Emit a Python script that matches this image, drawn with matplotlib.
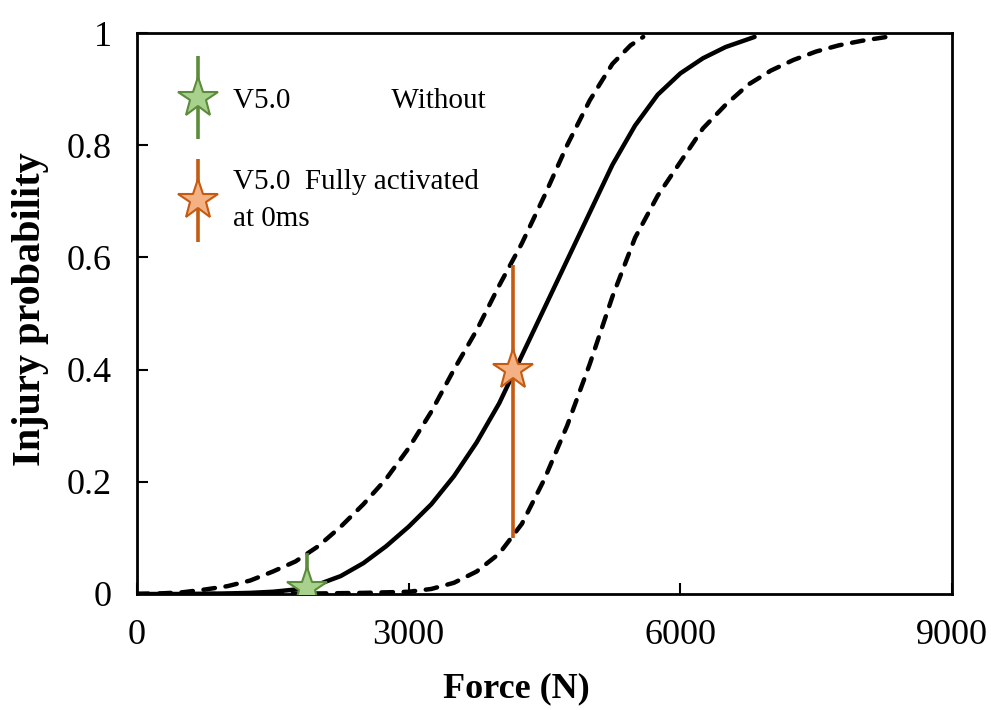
import matplotlib
matplotlib.use("Agg")
import matplotlib.pyplot as plt
from matplotlib.container import ErrorbarContainer
from matplotlib.legend_handler import HandlerErrorbar

plt.rcParams['font.family'] = ['Liberation Serif', 'DejaVu Serif']

# ---- data ----
mean_x = [0, 500, 1000, 1250, 1500, 1750, 2000, 2250, 2500, 2750, 3000, 3250, 3500,
          3750, 4000, 4250, 4500, 4750, 5000, 5250, 5500, 5750, 6000, 6250,
          6500, 6820]
mean_y = [0.0, 0.0, 0.001, 0.002, 0.004, 0.008, 0.017, 0.032, 0.055, 0.085, 0.12, 0.16,
          0.21, 0.27, 0.34, 0.425, 0.51, 0.595, 0.68, 0.765, 0.835, 0.89, 0.928,
          0.955, 0.975, 0.993]

upper_x = [0, 250, 500, 750, 1000, 1250, 1500, 1750, 2000, 2250, 2500, 2750, 3000,
           3250, 3500, 3750, 4000, 4250, 4500, 4750, 5000, 5250, 5450, 5590]
upper_y = [0.0, 0.001, 0.003, 0.008, 0.014, 0.024, 0.04, 0.058, 0.085, 0.12, 0.16,
           0.205, 0.26, 0.325, 0.40, 0.47, 0.55, 0.625, 0.71, 0.80, 0.88, 0.945, 0.978,
           0.993]

lower_x = [0, 1500, 2500, 3000, 3250, 3500, 3750, 4000, 4250, 4500, 4750, 5000, 5250,
           5500, 5750, 6000, 6250, 6500, 6750, 7000, 7250, 7500, 7750, 8000, 8280]
lower_y = [0.0, 0.0, 0.002, 0.004, 0.009, 0.02, 0.04, 0.072, 0.125, 0.205, 0.30, 0.41,
           0.53, 0.635, 0.71, 0.77, 0.83, 0.872, 0.908, 0.933, 0.952, 0.967, 0.978,
           0.986, 0.993]

pt_labels = ["V5.0              Without", "V5.0  Fully activated\nat 0ms"]
pt_x = [1880, 4150]
pt_y = [0.01, 0.40]
pt_err_low = [0.01, 0.30]
pt_err_high = [0.063, 0.186]
pt_line_colors = ["#5b8c3a", "#c55a11"]
pt_face_colors = ["#a9d18e", "#f4b183"]

x_ticks = [0, 3000, 6000, 9000]
x_tick_labels = ["0", "3000", "6000", "9000"]
y_ticks = [0, 0.2, 0.4, 0.6, 0.8, 1.0]
y_tick_labels = ["0", "0.2", "0.4", "0.6", "0.8", "1"]

# ---- figure ----
fig = plt.figure(figsize=(9.91, 7.10), dpi=100)
ax = fig.add_axes([137/991, 1 - 594/710, (952-137)/991, (594-33)/710])

dash = (0, (2.6, 2.4))
ax.plot(mean_x, mean_y, color="black", lw=3.2, solid_capstyle='round',
        solid_joinstyle='round', zorder=2)
ax.plot(upper_x, upper_y, color="black", lw=3.2, linestyle=dash,
        dash_capstyle='round', dash_joinstyle='round', zorder=2)
ax.plot(lower_x, lower_y, color="black", lw=3.2, linestyle=dash,
        dash_capstyle='round', dash_joinstyle='round', zorder=2)

for i in range(len(pt_x)):
    ax.errorbar([pt_x[i]], [pt_y[i]], yerr=[[pt_err_low[i]], [pt_err_high[i]]],
                fmt='*', ms=30, mfc=pt_face_colors[i], mec=pt_line_colors[i], mew=1.5,
                ecolor=pt_line_colors[i], elinewidth=2.6, capsize=0, zorder=4,
                label=pt_labels[i])

ax.set_xlim(0, 9000)
ax.set_ylim(0, 1)
ax.set_xticks(x_ticks)
ax.set_xticklabels(x_tick_labels)
ax.set_yticks(y_ticks)
ax.set_yticklabels(y_tick_labels)
ax.tick_params(direction='in', length=8, width=1.5, labelsize=26, pad=18)
ax.tick_params(axis='x', pad=18)
for s in ax.spines.values():
    s.set_linewidth(2)

ax.set_xlabel("Force (N)", fontsize=26, fontweight='bold')
ax.xaxis.set_label_coords(0.466, -0.14)
ax.set_ylabel("Injury probability", fontsize=29, fontweight='bold')
ax.yaxis.set_label_coords(-0.108, 0.508)

leg = ax.legend(loc='upper left', bbox_to_anchor=(0.017, 0.95), frameon=False,
                fontsize=21, handlelength=1.45, handletextpad=0.45, labelspacing=1.9,
                handler_map={ErrorbarContainer: HandlerErrorbar(yerr_size=1.43)})
for t in leg.get_texts():
    t.set_linespacing(1.55)

fig.savefig("out.png", dpi=100)
